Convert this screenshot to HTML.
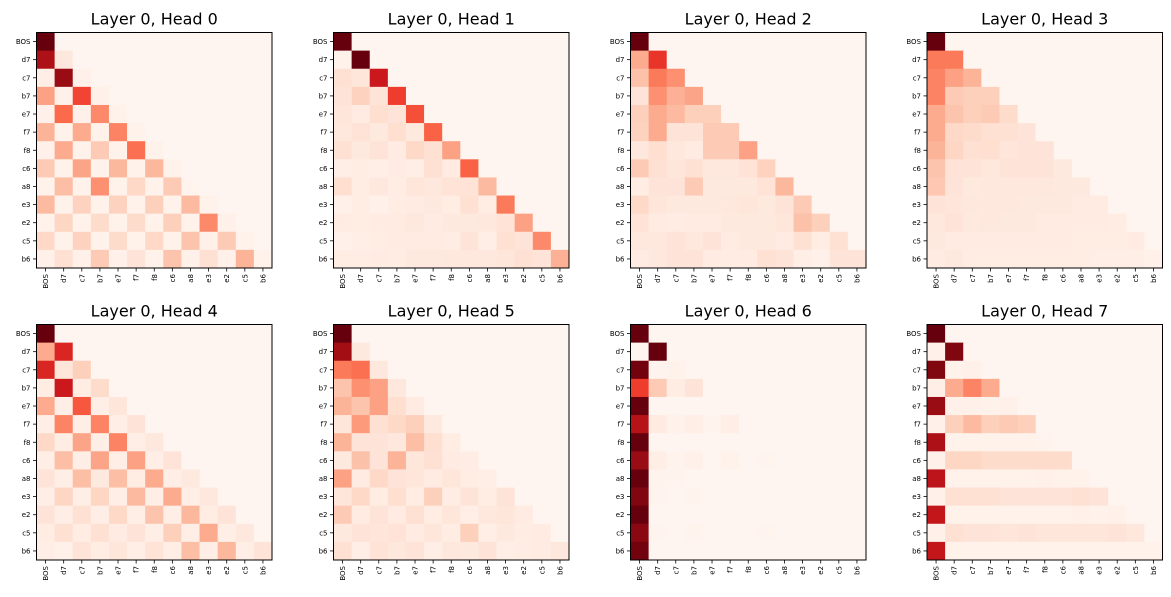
<!DOCTYPE html>
<html><head><meta charset="utf-8"><style>
html,body{margin:0;padding:0;background:#fff;}
svg{display:block;font-family:"DejaVu Sans","Liberation Sans",sans-serif;}
</style></head>
<body>
<svg id="chart" width="1171" height="597" viewBox="0 0 1171 597" xmlns="http://www.w3.org/2000/svg"></svg>
<script>
const tokens = ["BOS","d7","c7","b7","e7","f7","f8","c6","a8","e3","e2","c5","b6"];
const titles = ["Layer 0, Head 0","Layer 0, Head 1","Layer 0, Head 2","Layer 0, Head 3","Layer 0, Head 4","Layer 0, Head 5","Layer 0, Head 6","Layer 0, Head 7"];
const head0 = [[1],[0.85,0.08],[0.04,0.9,0.03],[0.33,0.03,0.6,0.03],[0.03,0.5,0.03,0.4,0.02],[0.27,0.02,0.3,0.02,0.42,0.02],[0.03,0.3,0.02,0.2,0.02,0.48,0.02],[0.2,0.02,0.32,0.02,0.26,0.02,0.26,0.02],[0.02,0.24,0.02,0.38,0.02,0.15,0.02,0.2,0.01],[0.25,0.02,0.17,0.02,0.17,0.02,0.18,0.02,0.25,0.02],[0.02,0.16,0.02,0.14,0.02,0.14,0.02,0.18,0.02,0.4,0.03],[0.15,0.02,0.17,0.02,0.14,0.02,0.15,0.02,0.22,0.03,0.2,0.02],[0.03,0.12,0.03,0.2,0.03,0.1,0.02,0.22,0.03,0.12,0.03,0.27,0.02]];
const head1 = [[1],[0.02,1],[0.12,0.09,0.75],[0.1,0.17,0.1,0.62],[0.09,0.06,0.13,0.1,0.57],[0.08,0.11,0.07,0.13,0.07,0.52],[0.12,0.07,0.1,0.06,0.15,0.12,0.33],[0.04,0.05,0.04,0.06,0.04,0.12,0.06,0.52],[0.13,0.05,0.08,0.05,0.09,0.08,0.11,0.11,0.25],[0.03,0.05,0.03,0.05,0.06,0.07,0.05,0.12,0.05,0.45],[0.06,0.05,0.06,0.06,0.08,0.06,0.07,0.07,0.08,0.11,0.33],[0.03,0.04,0.05,0.06,0.06,0.06,0.05,0.1,0.04,0.12,0.1,0.4],[0.05,0.05,0.06,0.05,0.07,0.07,0.08,0.08,0.08,0.09,0.12,0.1,0.28]];
const head2 = [[1],[0.3,0.65],[0.23,0.45,0.38],[0.1,0.38,0.28,0.32],[0.18,0.3,0.25,0.18,0.18],[0.17,0.3,0.1,0.1,0.2,0.2],[0.08,0.13,0.08,0.06,0.2,0.2,0.33],[0.2,0.12,0.09,0.12,0.08,0.08,0.11,0.17],[0.05,0.1,0.1,0.2,0.07,0.07,0.07,0.11,0.26],[0.15,0.09,0.07,0.07,0.07,0.08,0.09,0.07,0.1,0.2],[0.11,0.06,0.05,0.06,0.06,0.07,0.07,0.07,0.09,0.23,0.18],[0.08,0.08,0.1,0.08,0.1,0.06,0.07,0.07,0.06,0.12,0.05,0.12],[0.06,0.08,0.1,0.1,0.06,0.05,0.06,0.12,0.1,0.04,0.03,0.1,0.1]];
const head3 = [[1],[0.45,0.45],[0.42,0.33,0.27],[0.42,0.2,0.18,0.18],[0.3,0.22,0.18,0.2,0.14],[0.3,0.15,0.14,0.12,0.12,0.1],[0.27,0.16,0.12,0.13,0.09,0.1,0.1],[0.22,0.11,0.1,0.08,0.1,0.1,0.1,0.07],[0.21,0.1,0.07,0.08,0.08,0.08,0.08,0.07,0.07],[0.1,0.09,0.08,0.08,0.08,0.07,0.07,0.07,0.06,0.06],[0.08,0.1,0.07,0.08,0.07,0.07,0.06,0.06,0.06,0.06,0.05],[0.07,0.06,0.06,0.06,0.06,0.06,0.06,0.06,0.05,0.05,0.05,0.06],[0.06,0.07,0.05,0.05,0.05,0.05,0.05,0.05,0.05,0.04,0.04,0.04,0.03]];
const head4 = [[1],[0.3,0.7],[0.7,0.09,0.18],[0.05,0.75,0.05,0.14],[0.3,0.04,0.55,0.04,0.09],[0.04,0.42,0.04,0.42,0.04,0.1],[0.15,0.05,0.32,0.04,0.42,0.04,0.08],[0.04,0.24,0.04,0.32,0.04,0.33,0.04,0.1],[0.1,0.04,0.24,0.07,0.24,0.05,0.3,0.04,0.07],[0.04,0.16,0.04,0.16,0.04,0.25,0.04,0.3,0.04,0.08],[0.1,0.04,0.12,0.04,0.15,0.04,0.22,0.04,0.26,0.05,0.1],[0.05,0.12,0.05,0.12,0.06,0.1,0.04,0.18,0.04,0.3,0.04,0.08],[0.04,0.03,0.1,0.05,0.09,0.04,0.11,0.04,0.24,0.04,0.26,0.04,0.1]];
const head5 = [[1],[0.88,0.07],[0.45,0.48,0.08],[0.22,0.38,0.33,0.08],[0.27,0.22,0.33,0.13,0.06],[0.09,0.35,0.12,0.15,0.18,0.07],[0.27,0.1,0.1,0.08,0.24,0.13,0.05],[0.07,0.23,0.1,0.27,0.09,0.12,0.06,0.05],[0.33,0.06,0.15,0.1,0.09,0.06,0.09,0.05,0.04],[0.09,0.15,0.05,0.13,0.05,0.18,0.05,0.1,0.05,0.1],[0.2,0.06,0.1,0.06,0.12,0.05,0.09,0.04,0.08,0.09,0.06],[0.07,0.1,0.09,0.11,0.06,0.09,0.05,0.18,0.04,0.07,0.05,0.06],[0.12,0.04,0.11,0.08,0.1,0.04,0.08,0.07,0.1,0.04,0.05,0.06,0.08]];
const head6 = [[1],[0,1],[0.98,0.01,0.02],[0.62,0.2,0.05,0.1],[1],[0.82,0.06,0.02,0.04,0.01,0.04],[1],[0.9,0.04,0.01,0.03,0,0.02,0,0.01],[1,0.01,0.01],[0.95,0.01,0,0.01],[1],[0.93,0.01,0,0.01,0,0,0,0.01],[0.98]];
const head7 = [[1],[0.03,0.95],[0.95,0.02,0.03],[0.04,0.3,0.42,0.3],[0.9,0.03,0.03,0.02,0.03],[0.03,0.18,0.25,0.18,0.2,0.18],[0.85,0.02,0.02,0.02,0.02,0.02,0.01],[0.03,0.16,0.16,0.14,0.14,0.14,0.14,0.14],[0.8,0.02,0.02,0.02,0.02,0.02,0.03,0.02,0.02],[0.03,0.12,0.12,0.12,0.1,0.1,0.1,0.1,0.12,0.1],[0.78,0.02,0.02,0.02,0.02,0.02,0.02,0.02,0.03,0.02,0.03],[0.03,0.12,0.1,0.1,0.09,0.1,0.09,0.09,0.09,0.09,0.1,0.08],[0.78,0.02,0.02,0.02,0.02,0.02,0.02,0.02,0.02,0.02,0.02,0.02,0.02]];
const heads = [head0,head1,head2,head3,head4,head5,head6,head7];

const NS = "http://www.w3.org/2000/svg";
const svg = document.getElementById("chart");
const stops = [[255,245,240],[254,224,210],[252,187,161],[252,146,114],[251,106,74],[239,59,44],[203,24,29],[165,15,21],[103,0,13]];
function reds(t){
  t = Math.max(0, Math.min(1, t));
  const p = t * 8, i = Math.min(7, Math.floor(p)), f = p - i;
  const a = stops[i], b = stops[i+1];
  return "rgb(" + a.map((v,k)=>Math.round(v + (b[k]-v)*f)).join(",") + ")";
}
function mk(tag, attrs, parent){
  const e = document.createElementNS(NS, tag);
  for (const k in attrs) e.setAttribute(k, attrs[k]);
  parent.appendChild(e);
  return e;
}
const lefts = [36.5, 333.5, 630.5, 927];
const tops = [32.5, 324.5];
const size = 235.5;
const n = tokens.length;
const cell = size / n;

heads.forEach((mat, h) => {
  const x0 = lefts[h % 4], y0 = tops[Math.floor(h / 4)];
  const g = mk("g", {}, svg);
  
  
  let vmax = 0;
  mat.forEach(r => r.forEach(v => { if (v > vmax) vmax = v; }));
  const xScale = j => x0 + j * cell;
  const yScale = i => y0 + i * cell;
  for (let i = 0; i < n; i++) {
    for (let j = 0; j < n; j++) {
      const v = (mat[i] && mat[i][j] !== undefined) ? mat[i][j] : 0;
      const r = mk("rect", {x: xScale(j).toFixed(2), y: yScale(i).toFixed(2), width: (cell + 0.4).toFixed(2), height: (cell + 0.4).toFixed(2), fill: reds(v / vmax)}, g);
      
      
    }
  }
  const frame = mk("rect", {x: x0, y: y0, width: size, height: size, fill: "none", stroke: "#000", "stroke-width": 1}, g);
  
  
  const t = mk("text", {x: x0 + size / 2, y: y0 - 8, "text-anchor": "middle", "font-size": 16, fill: "#000"}, g);
  t.textContent = titles[h];
  
  
  for (let k = 0; k < n; k++) {
    const cy = yScale(k) + cell / 2, cx = xScale(k) + cell / 2;
    mk("line", {x1: x0 - 3.5, y1: cy, x2: x0, y2: cy, stroke: "#000", "stroke-width": 0.8}, g);
    mk("line", {x1: cx, y1: y0 + size, x2: cx, y2: y0 + size + 3.5, stroke: "#000", "stroke-width": 0.8}, g);
    const yl = mk("text", {x: x0 - 6, y: cy + 2.5, "text-anchor": "end", "font-size": 7, fill: "#000"}, g);
    yl.textContent = tokens[k];
    
    
    const xl = mk("text", {x: 0, y: 0, "text-anchor": "end", "font-size": 7, fill: "#000", transform: "translate(" + (cx + 2.5) + "," + (y0 + size + 6) + ") rotate(-90)"}, g);
    xl.textContent = tokens[k];
    
    
  }
});
</script>
</body></html>
